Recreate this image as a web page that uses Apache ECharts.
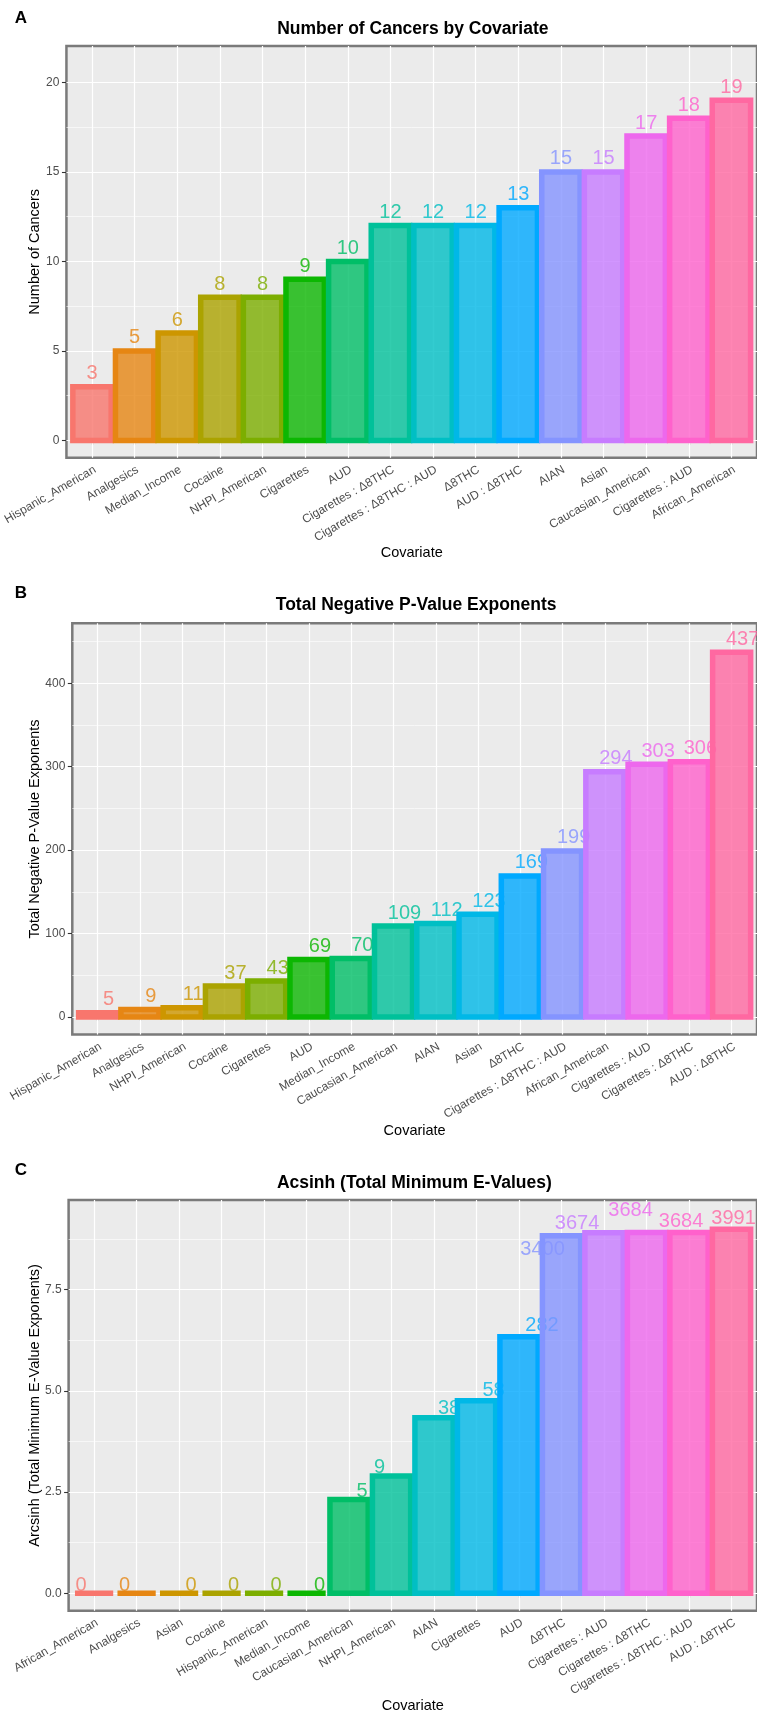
<!DOCTYPE html>
<html>
<head>
<meta charset="utf-8">
<script src="https://cdn.jsdelivr.net/npm/echarts@6/dist/echarts.min.js"></script>
<style>
  html, body { margin: 0; padding: 0; background: #ffffff; }
  #chart { width: 757px; height: 1715px; }
</style>
</head>
<body>
<div id="chart"></div>
<script>
// ---- Panel A: number of cancers linked to each covariate ----
const catsA = ['Hispanic_American', 'Analgesics', 'Median_Income', 'Cocaine', 'NHPI_American',
  'Cigarettes', 'AUD', 'Cigarettes : Δ8THC', 'Cigarettes : Δ8THC : AUD', 'Δ8THC', 'AUD : Δ8THC',
  'AIAN', 'Asian', 'Caucasian_American', 'Cigarettes : AUD', 'African_American'];
const countsA = [3, 5, 6, 8, 8, 9, 10, 12, 12, 12, 13, 15, 15, 17, 18, 19];
const yTicksA = [0, 5, 10, 15, 20];

// ---- Panel B: summed negative exponents of the p-values ----
const catsB = ['Hispanic_American', 'Analgesics', 'NHPI_American', 'Cocaine', 'Cigarettes', 'AUD',
  'Median_Income', 'Caucasian_American', 'AIAN', 'Asian', 'Δ8THC', 'Cigarettes : Δ8THC : AUD',
  'African_American', 'Cigarettes : AUD', 'Cigarettes : Δ8THC', 'AUD : Δ8THC'];
const pExponentsB = [5, 9, 11, 37, 43, 69, 70, 109, 112, 123, 169, 199, 294, 303, 306, 437];
const yTicksB = [0, 100, 200, 300, 400];

// ---- Panel C: summed minimum E-values, plotted on an arcsinh scale ----
const catsC = ['African_American', 'Analgesics', 'Asian', 'Cocaine', 'Hispanic_American',
  'Median_Income', 'Caucasian_American', 'NHPI_American', 'AIAN', 'Cigarettes', 'AUD', 'Δ8THC',
  'Cigarettes : AUD', 'Cigarettes : Δ8THC', 'Cigarettes : Δ8THC : AUD', 'AUD : Δ8THC'];
const eValuesC = [0, 0, 0, 0, 0, 0, 5, 9, 38, 58, 282, 3400, 3674, 3684, 3684, 3991];
const yTicksC = [0, 2.5, 5, 7.5];

// Label placement tweaks (pixels) so the value labels do not sit on top of each other
const labelShiftB = [11, 0];
const labelJitterC = [[-13, 5], [-12, 5], [12, 5], [12, 5], [12, 5], [13, 5], [13, 5], [-12, 4],
  [15, 4], [17, 3], [23, 2], [-19, 27], [-27, 4], [-16, -9], [-8, 2], [2, 2]];

// Default ggplot-style hue palette for 16 levels
const hue16 = ['#F8766D', '#E68613', '#CD9600', '#ABA300', '#7CAE00', '#0CB702', '#00BE67', '#00C19A',
  '#00BFC4', '#00B8E7', '#00A9FF', '#8494FF', '#C77CFF', '#ED68ED', '#FF61CC', '#FF68A1'];

const FONT = '"Liberation Sans", Arial, Helvetica, sans-serif';
const PANEL_RIGHT = 760;       // panels run a few pixels past the right edge of the canvas
const X_MIN = 0.4, X_MAX = 16.6;
const BAR_HALF = 0.45;         // bars are 0.9 of a category wide
const BAR_LINE = 5.5;
const Y_TITLE_X = 34;          // centre line of the rotated y-axis titles

function withAlpha(hex, a) {
  const n = parseInt(hex.slice(1), 16);
  return 'rgba(' + (n >> 16) + ',' + ((n >> 8) & 255) + ',' + (n & 255) + ',' + a + ')';
}

const panels = [
  {
    tag: 'A', title: 'Number of Cancers by Covariate', yName: 'Number of Cancers',
    cats: catsA, heights: countsA, labels: countsA, ticks: yTicksA, fmt: v => String(v),
    left: 65.7, top: 46, height: 411.7, yMin: -0.96, yMax: 22.03,
    tagY: 18.5, titleY: 29, xNameGap: 88,
    offsets: countsA.map(() => [0, 0])
  },
  {
    tag: 'B', title: 'Total Negative P-Value Exponents', yName: 'Total Negative P-Value Exponents',
    cats: catsB, heights: pExponentsB, labels: pExponentsB, ticks: yTicksB, fmt: v => String(v),
    left: 72.3, top: 623.3, height: 411.2, yMin: -21, yMax: 471.8,
    tagY: 593.5, titleY: 605, xNameGap: 89,
    offsets: pExponentsB.map(() => labelShiftB)
  },
  {
    tag: 'C', title: 'Acsinh (Total Minimum E-Values)', yName: 'Arcsinh (Total Minimum E-Value Exponents)',
    cats: catsC, heights: eValuesC.map(Math.asinh), labels: eValuesC, ticks: yTicksC, fmt: v => v.toFixed(1),
    left: 68.6, top: 1200, height: 410.7, yMin: -0.43, yMax: 9.71,
    tagY: 1170, titleY: 1183.5, xNameGap: 88,
    offsets: labelJitterC
  }
];

const positions = catsA.map((_, i) => i + 1);
const grids = [], xAxes = [], yAxes = [], series = [], graphics = [];

panels.forEach((p, k) => {
  const width = PANEL_RIGHT - p.left;
  const centerX = p.left + width / 2;

  grids.push({
    show: true, left: p.left, top: p.top, width: width, height: p.height,
    backgroundColor: '#EBEBEB', borderColor: '#7A7A7A', borderWidth: 2.5
  });

  xAxes.push({
    gridIndex: k, type: 'value', min: X_MIN, max: X_MAX,
    axisLine: { show: false }, splitLine: { show: false },
    axisTick: { show: true, customValues: positions, length: 4.5, lineStyle: { color: '#333333', width: 1.1 } },
    axisLabel: {
      customValues: positions, formatter: v => p.cats[Math.round(v) - 1],
      rotate: 30, margin: 6, verticalAlign: 'top', fontSize: 12, color: '#4D4D4D', fontFamily: FONT
    },
    name: 'Covariate', nameLocation: 'middle', nameGap: p.xNameGap, nameMoveOverlap: false,
    nameTextStyle: { fontSize: 14.5, color: '#000000', fontFamily: FONT }
  });

  yAxes.push({
    gridIndex: k, type: 'value', min: p.yMin, max: p.yMax,
    axisLine: { show: false }, splitLine: { show: false },
    axisTick: { show: true, customValues: p.ticks, length: 4.5, lineStyle: { color: '#333333', width: 1.1 } },
    axisLabel: { customValues: p.ticks, formatter: p.fmt, margin: 7, fontSize: 12, color: '#4D4D4D', fontFamily: FONT },
    name: p.yName, nameLocation: 'middle', nameRotate: 90, nameMoveOverlap: false,
    nameGap: p.left - Y_TITLE_X - 8,
    nameTextStyle: { fontSize: 14.5, color: '#000000', fontFamily: FONT }
  });

  // white major / minor grid lines underneath the bars
  const lines = [];
  p.ticks.forEach(t => lines.push({ yAxis: t, lineStyle: { width: 1.2 } }));
  const step = p.ticks[1] - p.ticks[0];
  for (let m = p.ticks[0] + step / 2; m < p.yMax; m += step) {
    lines.push({ yAxis: m, lineStyle: { width: 0.6 } });
  }
  positions.forEach(x => lines.push({ xAxis: x, lineStyle: { width: 1.2 } }));
  series.push({
    type: 'line', xAxisIndex: k, yAxisIndex: k, data: [], z: 1, silent: true,
    markLine: {
      z: 1, silent: true, symbol: 'none', animation: false, label: { show: false },
      lineStyle: { color: '#FFFFFF', type: 'solid' }, emphasis: { disabled: true },
      data: lines
    }
  });

  // value labels, drawn beneath the bars
  series.push({
    type: 'scatter', xAxisIndex: k, yAxisIndex: k, z: 2, silent: true, symbolSize: 0,
    data: p.heights.map((h, i) => ({
      value: [i + 1, h],
      label: { color: hue16[i], offset: p.offsets[i] }
    })),
    label: {
      show: true, position: 'top', distance: 3,
      formatter: prm => String(p.labels[prm.dataIndex]),
      fontSize: 20, fontFamily: FONT
    }
  });

  // bars: translucent fill with a solid outline centred on the bar edge
  series.push({
    type: 'custom', xAxisIndex: k, yAxisIndex: k, z: 3, silent: true,
    encode: { x: 0, y: 1 },
    data: p.heights.map((h, i) => [i + 1, h]),
    renderItem: (params, api) => {
      const x = api.value(0), v = api.value(1);
      const tl = api.coord([x - BAR_HALF, v]);
      const br = api.coord([x + BAR_HALF, 0]);
      const c = hue16[params.dataIndex];
      return {
        type: 'rect',
        shape: { x: tl[0], y: tl[1], width: br[0] - tl[0], height: br[1] - tl[1] },
        style: { fill: withAlpha(c, 0.8), stroke: c, lineWidth: BAR_LINE, lineJoin: 'miter' }
      };
    }
  });

  graphics.push({
    type: 'text', x: 21, y: p.tagY,
    style: { text: p.tag, font: 'bold 17px ' + FONT, fill: '#000', align: 'center', verticalAlign: 'middle' }
  });
  graphics.push({
    type: 'text', x: centerX, y: p.titleY,
    style: { text: p.title, font: 'bold 17.5px ' + FONT, fill: '#000', align: 'center', verticalAlign: 'middle' }
  });
});

const chart = echarts.init(document.getElementById('chart'), null, { renderer: 'canvas' });
chart.setOption({
  animation: false,
  backgroundColor: '#FFFFFF',
  textStyle: { fontFamily: FONT },
  grid: grids,
  xAxis: xAxes,
  yAxis: yAxes,
  series: series,
  graphic: graphics
});
</script>
</body>
</html>
